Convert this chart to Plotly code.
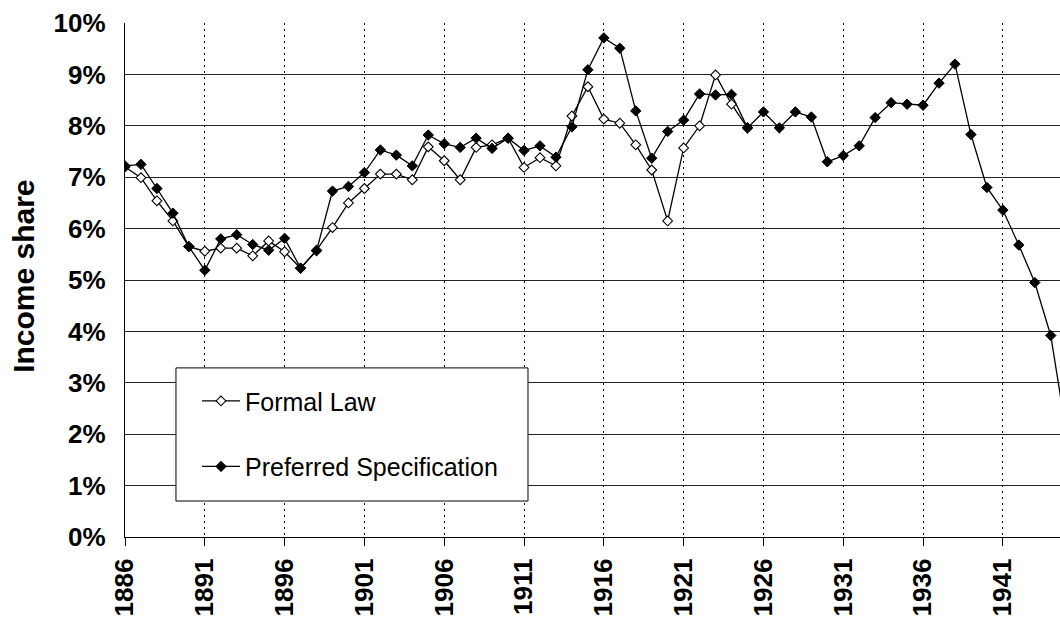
import plotly.graph_objects as go

# Data (income share, %)
years_pref = list(range(1886, 1946))
pref = [7.22, 7.25, 6.78, 6.30, 5.65, 5.19, 5.80, 5.88, 5.69, 5.58,
        5.81, 5.23, 5.57, 6.73, 6.82, 7.09, 7.53, 7.43, 7.22, 7.82,
        7.65, 7.58, 7.76, 7.56, 7.76, 7.52, 7.61, 7.39, 7.98, 9.09,
        9.71, 9.51, 8.29, 7.37, 7.89, 8.11, 8.62, 8.60, 8.61, 7.96,
        8.27, 7.96, 8.27, 8.17, 7.30, 7.42, 7.61, 8.16, 8.45, 8.42,
        8.40, 8.83, 9.20, 7.83, 6.80, 6.36, 5.68, 4.95, 3.92, 1.98]

years_formal = list(range(1886, 1926))
formal = [7.20, 6.99, 6.54, 6.15, 5.65, 5.56, 5.62, 5.62, 5.47, 5.76,
          5.55, 5.23, 5.58, 6.02, 6.50, 6.78, 7.06, 7.06, 6.95, 7.59,
          7.32, 6.95, 7.58, 7.63, 7.76, 7.19, 7.38, 7.22, 8.19, 8.76,
          8.13, 8.05, 7.63, 7.14, 6.15, 7.57, 8.00, 8.99, 8.42, 7.96]

x_ticks = list(range(1886, 1942, 5))
y_ticks = list(range(0, 11))

FONT = "Arial, Liberation Sans, sans-serif"

fig = go.Figure()
fig.add_trace(go.Scatter(
    x=years_formal, y=formal, name="Formal Law", mode="lines+markers",
    legendgroup="a",
    line=dict(color="black", width=1.3),
    marker=dict(symbol="diamond", size=7.5, color="white",
                line=dict(color="black", width=1.1)),
))
fig.add_trace(go.Scatter(
    x=years_pref, y=pref, name="Preferred Specification", mode="lines+markers",
    legendgroup="b",
    line=dict(color="black", width=1.3),
    marker=dict(symbol="diamond", size=8, color="black",
                line=dict(color="black", width=1)),
))

# legend box
fig.add_shape(type="rect", xref="paper", yref="paper",
              x0=0.0545, x1=0.431, y0=0.070, y1=0.329,
              fillcolor="white", line=dict(color="black", width=1),
              layer="above")

# y-axis title
fig.add_annotation(text="<b>Income share</b>", xref="paper", yref="paper",
                   x=-0.1086, y=0.507, xanchor="center", yanchor="middle",
                   textangle=-90, showarrow=False,
                   font=dict(size=30, family=FONT, color="black"))

fig.update_layout(
    width=1060, height=619,
    margin=dict(l=125, r=0, t=23, b=82),
    paper_bgcolor="white", plot_bgcolor="white",
    font=dict(family=FONT, color="black"),
    showlegend=True,
    legend=dict(x=0.077, y=0.309, xanchor="left", yanchor="top",
                bgcolor="rgba(0,0,0,0)", borderwidth=0,
                font=dict(size=25, family=FONT, color="black"),
                traceorder="grouped", tracegroupgap=30,
                itemwidth=38),
    xaxis=dict(
        range=[1886, 1944.58], tickmode="array", tickvals=x_ticks,
        ticktext=[str(v) for v in x_ticks], tickangle=-90,
        tickfont=dict(size=26, family=FONT, color="black", weight="bold"),
        ticks="outside", ticklen=8, tickcolor="black", tickwidth=1,
        ticklabelstandoff=2, automargin=False,
        showline=True, linecolor="black", linewidth=1.3,
        showgrid=True, gridcolor="black", gridwidth=1, griddash="2px,4px",
        zeroline=False,
    ),
    yaxis=dict(
        range=[0, 10], tickmode="array", tickvals=y_ticks,
        ticktext=[f"{v}%" for v in y_ticks],
        tickfont=dict(size=26, family=FONT, color="black", weight="bold"),
        ticks="", ticklabelstandoff=13, automargin=False,
        showline=True, linecolor="black", linewidth=1.3,
        showgrid=True, gridcolor="#222222", gridwidth=1,
        zeroline=False,
    ),
)

fig.write_html(
    "out.html",
    config={"displayModeBar": False},
    post_script="document.body.style.margin='0';"
                "document.documentElement.style.overflow='hidden';"
                "document.body.style.overflow='hidden';",
)
